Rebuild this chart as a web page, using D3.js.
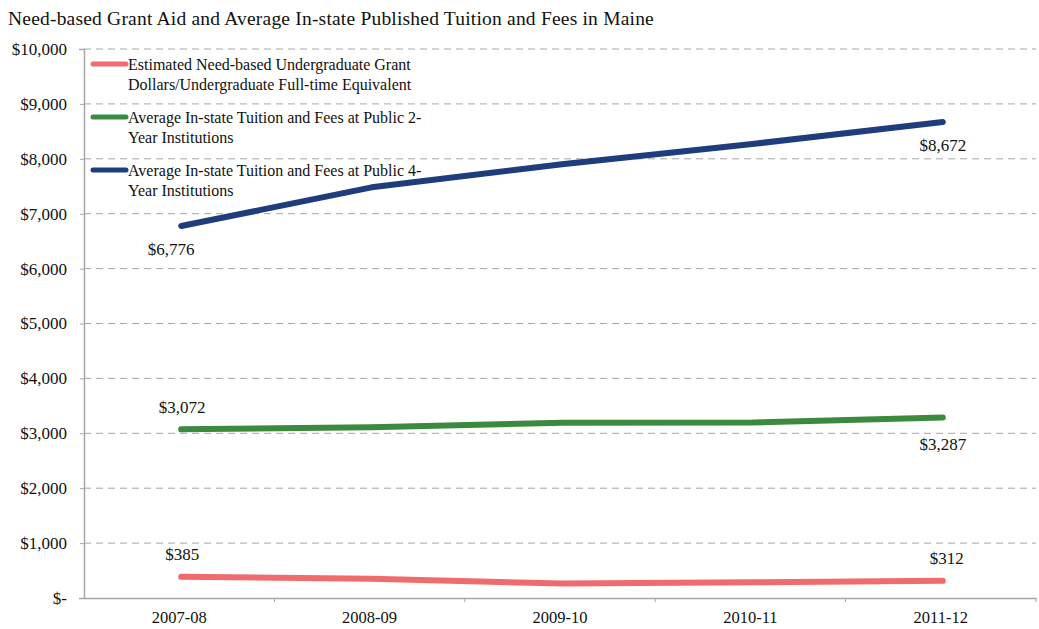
<!DOCTYPE html>
<html>
<head>
<meta charset="utf-8">
<script src="https://cdn.jsdelivr.net/npm/d3@7"></script>
<style>
  body { margin: 0; background: #fff; }
  text { font-family: "Liberation Serif", "DejaVu Serif", serif; fill: #111; }
</style>
</head>
<body>
<svg id="chart" width="1039" height="629"></svg>
<script>
// Academic years on the x axis
const years = ["2007-08", "2008-09", "2009-10", "2010-11", "2011-12"];

// Dollar values per year
const grantAid   = [385, 350, 265, 285, 312];
const tuition2yr = [3072, 3110, 3190, 3195, 3287];
const tuition4yr = [6776, 7480, 7900, 8270, 8672];

const seriesNames = [
  ["Estimated Need-based Undergraduate Grant", "Dollars/Undergraduate Full-time Equivalent"],
  ["Average In-state Tuition and Fees at Public 2-", "Year Institutions"],
  ["Average In-state Tuition and Fees at Public 4-", "Year Institutions"]
];
const seriesColors = ["#ef6b6e", "#3b8a3f", "#1f3d7c"];

const yTicks = [0, 1000, 2000, 3000, 4000, 5000, 6000, 7000, 8000, 9000, 10000];

const svg = d3.select("#chart");
const plotLeft = 84, plotRight = 1036, plotTop = 49, plotBottom = 598;

const x = d3.scaleBand().domain(years).range([plotLeft, plotRight]);
const y = d3.scaleLinear().domain([0, 10000]).range([plotBottom, plotTop]);

svg.append("text")
  .attr("x", 8).attr("y", 25)
  .style("font-size", "19.5px")
  .style("letter-spacing", "0.2px")
  .text("Need-based Grant Aid and Average In-state Published Tuition and Fees in Maine");

// Dashed gridlines
svg.append("g").selectAll("line")
  .data(yTicks.filter(d => d > 0))
  .join("line")
  .attr("x1", plotLeft).attr("x2", plotRight)
  .attr("y1", d => y(d)).attr("y2", d => y(d))
  .attr("stroke", "#a6a6a6").attr("stroke-width", 1)
  .attr("stroke-dasharray", "7,5");

// Y axis
const fmt = d => d === 0 ? "$-" : "$" + d3.format(",")(d);
const yAxis = svg.append("g")
  .attr("transform", `translate(${plotLeft},0)`)
  .call(d3.axisLeft(y).tickValues(yTicks).tickFormat(fmt).tickSize(5).tickPadding(12));
yAxis.select(".domain").attr("stroke", "#a6a6a6").attr("stroke-width", 1.5);
yAxis.selectAll(".tick line").attr("stroke", "#a6a6a6").attr("x1", -4).attr("x2", 0);
yAxis.selectAll("text").style("font-size", "17px").style("font-family", "Liberation Serif, serif").attr("fill", "#111");

// X axis with boundary ticks
const xAxis = svg.append("g")
  .attr("transform", `translate(0,${plotBottom})`)
  .call(d3.axisBottom(x).tickSize(0).tickPadding(13));
xAxis.select(".domain").attr("stroke", "#a6a6a6").attr("stroke-width", 1.5);
xAxis.selectAll("text").style("font-size", "16.5px").style("font-family", "Liberation Serif, serif").attr("fill", "#111");
svg.append("g").selectAll("line")
  .data(years)
  .join("line")
  .attr("x1", (d, i) => plotLeft + x.step() * (i + 1))
  .attr("x2", (d, i) => plotLeft + x.step() * (i + 1))
  .attr("y1", plotBottom).attr("y2", plotBottom + 4)
  .attr("stroke", "#a6a6a6");

// Lines
const allSeries = [grantAid, tuition2yr, tuition4yr];
const px = i => x(years[i]) + x.bandwidth() / 2 + 2;
const line = d3.line()
  .x((d, i) => px(i))
  .y(d => y(d));

allSeries.forEach((vals, k) => {
  svg.append("path")
    .datum(vals)
    .attr("d", line)
    .attr("fill", "none")
    .attr("stroke", seriesColors[k])
    .attr("stroke-width", 6)
    .attr("stroke-linecap", "round")
    .attr("stroke-linejoin", "round");
});

// Value labels on first and last points
const labels = [
  { v: tuition4yr[0], i: 0, dx: -10, dy: 29 },
  { v: tuition4yr[4], i: 4, dx: 0, dy: 29 },
  { v: tuition2yr[0], i: 0, dx: 1, dy: -16 },
  { v: tuition2yr[4], i: 4, dx: 0, dy: 32 },
  { v: grantAid[0], i: 0, dx: 1, dy: -17 },
  { v: grantAid[4], i: 4, dx: 4, dy: -17 }
];
svg.append("g").selectAll("text")
  .data(labels)
  .join("text")
  .attr("x", d => px(d.i) + d.dx)
  .attr("y", d => y(d.v) + d.dy)
  .attr("text-anchor", "middle")
  .style("font-size", "17px")
  .text(d => "$" + d3.format(",")(d.v));

// Legend
const legend = svg.append("g");
seriesNames.forEach((lines, k) => {
  const ly = 64 + k * 53;
  legend.append("line")
    .attr("x1", 93).attr("x2", 126)
    .attr("y1", ly).attr("y2", ly)
    .attr("stroke", seriesColors[k]).attr("stroke-width", 5)
    .attr("stroke-linecap", "round");
  lines.forEach((t, j) => {
    legend.append("text")
      .attr("x", 128).attr("y", ly + 6 + j * 20)
      .style("font-size", "16px")
      .text(t);
  });
});
</script>
</body>
</html>
